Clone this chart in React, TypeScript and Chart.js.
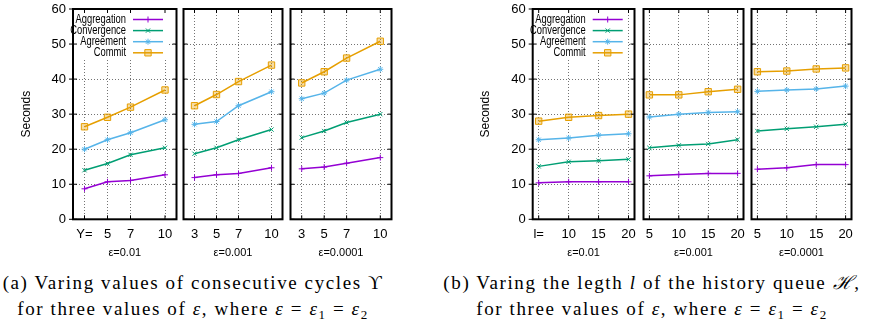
import React, { useEffect, useRef } from 'react';
import { Chart, registerables } from 'chart.js';
import { drawPoint } from 'chart.js/helpers';

Chart.register(...registerables);

// ---------------- data ----------------
const seriesNames = ['Aggregation', 'Convergence', 'Agreement', 'Commit'];
const epsilonTitles = ['ε=0.01', 'ε=0.001', 'ε=0.0001'];

const cycleValues = [3, 5, 7, 10];
const cycleLabelsFirst = ['Υ=', '5', '7', '10'];
const cycleLabels = ['3', '5', '7', '10'];

const queueValues = [5, 10, 15, 20];
const queueLabelsFirst = ['l=', '10', '15', '20'];
const queueLabels = ['5', '10', '15', '20'];

const yTickValues = [0, 10, 20, 30, 40, 50, 60];

// Figure (a): rows are the ε panels (0.01, 0.001, 0.0001)
const cyclesAggregation = [[8.7, 10.7, 11.1, 12.7], [11.9, 12.7, 13.1, 14.7], [14.4, 14.9, 16.0, 17.6]];
const cyclesConvergence = [[14.0, 15.9, 18.4, 20.4], [18.7, 20.4, 22.7, 25.6], [23.3, 25.2, 27.6, 30.0]];
const cyclesAgreement = [[20.0, 22.7, 24.7, 28.4], [27.1, 27.9, 32.4, 36.4], [34.4, 36.0, 39.7, 42.8]];
const cyclesCommit = [[26.4, 29.1, 32.0, 36.9], [32.4, 35.6, 39.3, 44.0], [38.9, 42.1, 46.0, 50.8]];

// Figure (b)
const queueAggregation = [[10.4, 10.7, 10.7, 10.7], [12.4, 12.8, 13.1, 13.1], [14.3, 14.7, 15.6, 15.6]];
const queueConvergence = [[15.1, 16.4, 16.7, 17.1], [20.4, 21.1, 21.5, 22.7], [25.2, 25.8, 26.4, 27.1]];
const queueAgreement = [[22.7, 23.2, 24.0, 24.4], [29.2, 30.0, 30.5, 30.7], [36.5, 36.9, 37.2, 38.0]];
const queueCommit = [[28.0, 29.1, 29.6, 30.0], [35.5, 35.5, 36.4, 37.1], [42.1, 42.3, 42.9, 43.2]];

// ---------------- styles ----------------
const FONT = "'Liberation Sans', Arial, sans-serif";
const COLORS = ['#9400d3', '#009e73', '#56b4e9', '#e69f00'];
const POINT_STYLES = ['cross', 'crossRot', 'star', 'rect'];
const POINT_RADII = [3, 3, 3, 4.5];
const POINT_FILLS = ['#9400d3', '#009e73', '#56b4e9', 'rgba(230,159,0,0.35)'];
const GRID = 'rgba(0,0,0,0.55)';
const CANVAS_H = 262;
const AREA_TOP = 9;
const AREA_BOTTOM = 219.3;
const YAXIS_W = 60;

const framePlugin = {
  id: 'frame',
  afterDraw(chart: any, _args: any, opts: any) {
    const { ctx, chartArea: a, scales } = chart;
    const xS = scales.x;
    const yS = scales.y;
    ctx.save();
    ctx.strokeStyle = '#000';
    ctx.lineWidth = 1;
    const seg = (x1: number, y1: number, x2: number, y2: number) => {
      ctx.beginPath();
      ctx.moveTo(x1, y1);
      ctx.lineTo(x2, y2);
      ctx.stroke();
    };
    yTickValues.forEach((v) => {
      const py = yS.getPixelForValue(v);
      seg(a.left, py, a.left + 4, py);
      seg(a.right - 4, py, a.right, py);
      if (opts && opts.outer) seg(a.left - 4, py, a.left, py);
    });
    xS.ticks.forEach((t: any) => {
      const px = xS.getPixelForValue(t.value);
      seg(px, a.bottom, px, a.bottom - 4);
      seg(px, a.top, px, a.top + 4);
    });
    ctx.lineWidth = 2;
    ctx.strokeRect(a.left, a.top, a.right - a.left, a.bottom - a.top);
    ctx.restore();
  },
};

const keyPlugin = {
  id: 'keybox',
  beforeDatasetsDraw(chart: any, _args: any, opts: any) {
    if (!opts || !opts.show) return;
    const { ctx, chartArea: a } = chart;
    ctx.save();
    ctx.fillStyle = '#fff';
    ctx.fillRect(a.left + 1, a.top + 1, 94, 48);
    ctx.font = `12px ${FONT}`;
    ctx.textAlign = 'right';
    ctx.textBaseline = 'middle';
    chart.data.datasets.forEach((ds: any, i: number) => {
      const y = a.top + 10.5 + i * 11.1;
      ctx.save();
      ctx.translate(a.left + 53, y);
      ctx.scale(0.78, 1);
      ctx.fillStyle = '#000';
      ctx.fillText(ds.label, 0, 0);
      ctx.restore();
      ctx.strokeStyle = ds.borderColor;
      ctx.lineWidth = 1.5;
      ctx.beginPath();
      ctx.moveTo(a.left + 60, y);
      ctx.lineTo(a.left + 90, y);
      ctx.stroke();
      ctx.lineWidth = 1;
      ctx.fillStyle = ds.pointBackgroundColor;
      drawPoint(ctx, { pointStyle: ds.pointStyle, radius: ds.pointRadius, borderWidth: 1, rotation: 0 } as any, a.left + 75, y);
    });
    ctx.restore();
  },
};

type PanelProps = {
  left: number;
  right: number;
  xValues: number[];
  xLabels: string[];
  xMin: number;
  xMax: number;
  series: number[][];
  title: string;
  first: boolean;
};

function Panel({ left, right, xValues, xLabels, xMin, xMax, series, title, first }: PanelProps) {
  const ref = useRef<HTMLCanvasElement>(null);
  const yw = first ? YAXIS_W : 3;
  const canvasLeft = Math.floor(left - yw);
  const yAxisWidth = left - canvasLeft;
  const canvasWidth = Math.ceil(right + 3 - canvasLeft);
  const padRight = canvasWidth + canvasLeft - right;

  useEffect(() => {
    if (!ref.current) return;
    const chart = new Chart(ref.current, {
      type: 'line',
      data: {
        datasets: series.map((vals, i) => ({
          label: seriesNames[i],
          data: vals.map((v, j) => ({ x: xValues[j], y: v })),
          borderColor: COLORS[i],
          backgroundColor: COLORS[i],
          pointBackgroundColor: POINT_FILLS[i],
          pointBorderColor: COLORS[i],
          pointStyle: POINT_STYLES[i],
          pointRadius: POINT_RADII[i],
          pointBorderWidth: 1,
          borderWidth: 1.5,
          tension: 0,
          fill: false,
        })),
      },
      options: {
        animation: false,
        responsive: false,
        events: [],
        layout: { padding: { top: AREA_TOP, left: 0, right: padRight, bottom: 0 } },
        plugins: {
          legend: { display: false },
          tooltip: { enabled: false },
          keybox: { show: first },
          frame: { outer: first },
        } as any,
        scales: {
          x: {
            type: 'linear',
            min: xMin,
            max: xMax,
            afterBuildTicks: (s: any) => {
              s.ticks = xValues.map((v) => ({ value: v }));
            },
            afterFit: (s: any) => {
              s.height = CANVAS_H - AREA_BOTTOM;
            },
            ticks: {
              autoSkip: false,
              maxRotation: 0,
              padding: 0,
              color: '#000',
              font: { family: FONT, size: 13 },
              callback: (_v: any, idx: number) => xLabels[idx],
            },
            grid: { color: GRID, lineWidth: 1, drawTicks: true, tickLength: 7, tickColor: 'rgba(0,0,0,0)' },
            border: { display: false, dash: [1, 2] },
            title: {
              display: true,
              text: title,
              color: '#000',
              font: { family: FONT, size: 11 },
              padding: { top: 0, bottom: 2.4 },
            },
          },
          y: {
            min: 0,
            max: 60,
            afterBuildTicks: (s: any) => {
              s.ticks = yTickValues.map((v) => ({ value: v }));
            },
            afterFit: (s: any) => {
              s.width = yAxisWidth;
            },
            ticks: {
              display: first,
              padding: 0,
              color: '#000',
              font: { family: FONT, size: 13 },
            },
            grid: { color: GRID, lineWidth: 1, drawTicks: first, tickLength: 7, tickColor: 'rgba(0,0,0,0)' },
            border: { display: false, dash: [1, 2] },
            title: {
              display: first,
              text: 'Seconds',
              color: '#000',
              font: { family: FONT, size: 12 },
              padding: { top: 6.8, bottom: 0 },
            },
          },
        },
      } as any,
      plugins: [keyPlugin, framePlugin],
    });
    return () => chart.destroy();
  }, []);

  return (
    <canvas
      ref={ref}
      width={canvasWidth}
      height={CANVAS_H}
      style={{ position: 'absolute', left: canvasLeft, top: 0, width: canvasWidth, height: CANVAS_H }}
    />
  );
}

const figALefts = [73, 181.3, 288.5];
const figARights = [178.8, 285, 393.3];
const figBLefts = [532.7, 641, 749];
const figBRights = [636.7, 745.7, 853.3];

const capStyle: React.CSSProperties = {
  position: 'absolute',
  top: 270,
  textAlign: 'center',
  fontFamily: "'Liberation Serif', serif",
  fontSize: 19,
  letterSpacing: 1.6,
  lineHeight: '25.7px',
  whiteSpace: 'nowrap',
  color: '#000',
};
const subStyle: React.CSSProperties = { fontSize: 13, verticalAlign: -4, lineHeight: 0 };

export default function App() {
  const cyc = [cyclesAggregation, cyclesConvergence, cyclesAgreement, cyclesCommit];
  const que = [queueAggregation, queueConvergence, queueAgreement, queueCommit];
  return (
    <div style={{ position: 'absolute', left: 0, top: 0, width: 893, height: 322, background: '#fff', overflow: 'hidden' }}>
      {[0, 1, 2].map((p) => (
        <Panel
          key={'a' + p}
          left={figALefts[p]}
          right={figARights[p]}
          xValues={cycleValues}
          xLabels={p === 0 ? cycleLabelsFirst : cycleLabels}
          xMin={2}
          xMax={11}
          series={cyc.map((s) => s[p])}
          title={epsilonTitles[p]}
          first={p === 0}
        />
      ))}
      {[0, 1, 2].map((p) => (
        <Panel
          key={'b' + p}
          left={figBLefts[p]}
          right={figBRights[p]}
          xValues={queueValues}
          xLabels={p === 0 ? queueLabelsFirst : queueLabels}
          xMin={4}
          xMax={21}
          series={que.map((s) => s[p])}
          title={epsilonTitles[p]}
          first={p === 0}
        />
      ))}
      <div style={{ ...capStyle, left: 0, width: 386 }}>
        <div>(a) Varing values of consecutive cycles ϒ</div>
        <div>
          for three values of <i>ε</i>, where <i>ε</i> = <i>ε</i><sub style={subStyle}>1</sub> = <i>ε</i>
          <sub style={subStyle}>2</sub>
        </div>
      </div>
      <div style={{ ...capStyle, left: 422, width: 460 }}>
        <div>
          (b) Varing the legth <i>l</i> of the history queue <i>ℋ</i>,
        </div>
        <div>
          for three values of <i>ε</i>, where <i>ε</i> = <i>ε</i><sub style={subStyle}>1</sub> = <i>ε</i>
          <sub style={subStyle}>2</sub>
        </div>
      </div>
    </div>
  );
}
